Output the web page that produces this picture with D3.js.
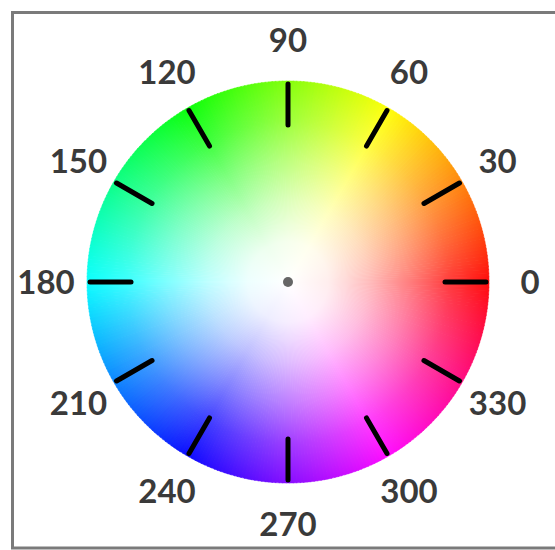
<!DOCTYPE html>
<html>
<head>
<meta charset="utf-8">
<script src="https://cdn.jsdelivr.net/npm/d3@7"></script>
<style>
  html, body { margin: 0; padding: 0; background: #fff; }
  svg { display: block; }
</style>
</head>
<body>
<svg id="chart" width="555" height="550"></svg>
<script>
// Data
const tickAngles = [0, 30, 60, 90, 120, 150, 180, 210, 240, 270, 300, 330];
const tickLabels = ["0", "30", "60", "90", "120", "150", "180", "210", "240", "270", "300", "330"];
const hueSteps = d3.range(0, 360, 1);
// white wash from centre (offset, opacity)
const washStops = [[0, 1], [0.2, 0.93], [0.4, 0.74], [0.6, 0.5], [0.8, 0.24], [1, 0.05]];

const W = 555, H = 550;
const cx = 288, cy = 282, R = 201;

const svg = d3.select("#chart");

// frame
svg.append("rect")
  .attr("x", 12.5).attr("y", 12.5)
  .attr("width", 560).attr("height", 535.5)
  .attr("fill", "#fff")
  .attr("stroke", "#7a7a7a")
  .attr("stroke-width", 3);

// hue angle (degrees, counter-clockwise from 3 o'clock) -> d3.arc angle (radians, clockwise from 12)
const arcAngle = d3.scaleLinear().domain([0, 360]).range([Math.PI / 2, Math.PI / 2 - 2 * Math.PI]);
// hue angle -> math angle radians for positions
const posAngle = d3.scaleLinear().domain([0, 360]).range([0, 2 * Math.PI]);

const g = svg.append("g").attr("transform", `translate(${cx},${cy})`);

const arc = d3.arc().innerRadius(0).outerRadius(R);

g.selectAll("path.hue")
  .data(hueSteps)
  .join("path")
  .attr("class", "hue")
  .attr("d", h => arc({ startAngle: arcAngle(h + 0.6), endAngle: arcAngle(h - 0.6) }))
  .attr("fill", h => d3.hsl(h, 1, 0.5).formatHex())
  .attr("stroke", h => d3.hsl(h, 1, 0.5).formatHex())
  .attr("stroke-width", 0.5);

// radial white wash
const defs = svg.append("defs");
const grad = defs.append("radialGradient")
  .attr("id", "wash")
  .attr("gradientUnits", "userSpaceOnUse")
  .attr("cx", 0).attr("cy", 0).attr("r", R);
grad.selectAll("stop")
  .data(washStops)
  .join("stop")
  .attr("offset", d => d[0])
  .attr("stop-color", "#fff")
  .attr("stop-opacity", d => d[1]);

g.append("circle").attr("r", R + 0.5).attr("fill", "url(#wash)");

// ticks
const rIn = 157, rOut = 198;
g.selectAll("line.tick")
  .data(tickAngles)
  .join("line")
  .attr("class", "tick")
  .attr("x1", a => rIn * Math.cos(posAngle(a)))
  .attr("y1", a => -rIn * Math.sin(posAngle(a)))
  .attr("x2", a => rOut * Math.cos(posAngle(a)))
  .attr("y2", a => -rOut * Math.sin(posAngle(a)))
  .attr("stroke", "#000")
  .attr("stroke-width", 5)
  .attr("stroke-linecap", "round");

// centre dot
g.append("circle").attr("r", 5).attr("fill", "#666");

// labels
const rLab = 242;
g.selectAll("text.lab")
  .data(tickAngles)
  .join("text")
  .attr("class", "lab")
  .attr("x", a => rLab * Math.cos(posAngle(a)))
  .attr("y", a => -rLab * Math.sin(posAngle(a)))
  .attr("text-anchor", "middle")
  .attr("dy", "0.36em")
  .attr("font-family", "Lato, 'Open Sans', sans-serif")
  .attr("font-weight", "bold")
  .attr("font-size", 33)
  .attr("fill", "#3a3a3a")
  .text((a, i) => tickLabels[i]);
</script>
</body>
</html>
